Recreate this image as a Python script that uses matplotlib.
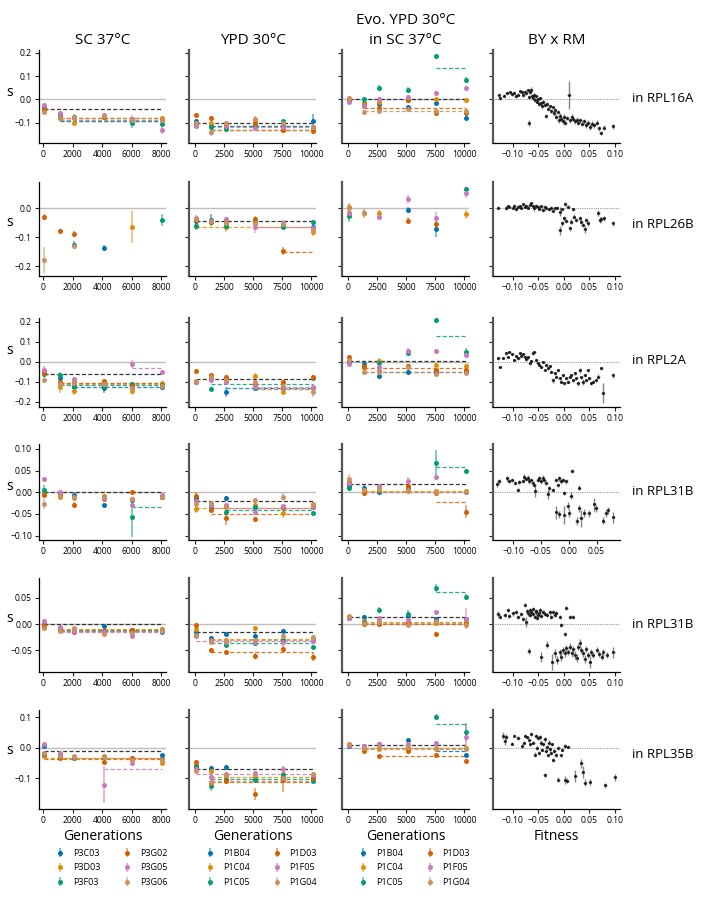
import numpy as np
import matplotlib
matplotlib.use('Agg')
import matplotlib.pyplot as plt
from matplotlib.colors import to_rgba

plt.rcParams['font.family'] = ['Open Sans', 'DejaVu Sans']
plt.rcParams['axes.unicode_minus'] = True

N = np.nan

# ---------------- labels / categories ----------------
conditions = ['SC 37°C', 'YPD 30°C', 'Evo. YPD 30°C\nin SC 37°C', 'BY x RM']
genes = ['in RPL16A', 'in RPL26B', 'in RPL2A', 'in RPL31B', 'in RPL31B', 'in RPL35B']
pops_sc = ['P3C03', 'P3D03', 'P3F03', 'P3G02', 'P3G05', 'P3G06']
pops_ypd = ['P1B04', 'P1C04', 'P1C05', 'P1D03', 'P1F05', 'P1G04']
palette = ['#0173b2', '#de8f05', '#029e73', '#d55e00', '#cc78bc', '#ca9161']
gens_sc = [50, 1100, 2100, 4100, 6050, 8100]
gens_ypd = [50, 1400, 2650, 5150, 7550, 10150]
xticks_sc = [0, 2000, 4000, 6000, 8000]
xticks_ypd = [0, 2500, 5000, 7500, 10000]
xticks_fit = [-0.10, -0.05, 0.00, 0.05, 0.10]
row_yticks = [[-0.1, 0.0, 0.1, 0.2], [-0.2, -0.1, 0.0], [-0.2, -0.1, 0.0, 0.1, 0.2],
              [-0.10, -0.05, 0.00, 0.05, 0.10], [-0.05, 0.00, 0.05], [-0.1, 0.0, 0.1]]
row_ylim = [(-0.188, 0.212), (-0.233, 0.091), (-0.2265, 0.2185),
            (-0.110, 0.1113), (-0.0913, 0.0875), (-0.200, 0.1235)]
row_fit_xlim = [(-0.139, 0.110), (-0.139, 0.110), (-0.139, 0.110),
                (-0.136, 0.092), (-0.139, 0.110), (-0.139, 0.110)]
byrm_xerr = 0.003

# ---------------- RPL16A ----------------
rpl16a_sc_s = [[-0.034, -0.062, -0.078, -0.072, -0.085, -0.090],
               [-0.050, -0.080, -0.103, -0.075, -0.085, -0.080],
               [-0.045, -0.078, -0.075, -0.075, -0.100, -0.105],
               [-0.043, -0.080, -0.080, -0.075, -0.085, -0.090],
               [-0.025, -0.060, -0.080, -0.068, -0.083, -0.130],
               [-0.056, -0.082, -0.077, -0.072, -0.090, -0.090]]
rpl16a_sc_err = [[.006, .006, .006, .006, .007, .008],
                 [.008, .010, .012, .008, .008, .008],
                 [.006, .008, .010, .008, .022, .010],
                 [.006, .006, .008, .006, .008, .006],
                 [.008, .008, .008, .008, .015, .020],
                 [.008, .010, .008, .006, .008, .010]]
rpl16a_sc_anc = -0.043
rpl16a_sc_fit = [(1100, -0.092), (1100, -0.080), (1100, -0.093), (1100, -0.080), (1100, -0.088), (1100, -0.082)]

rpl16a_ypd_s = [[-0.092, -0.115, -0.115, -0.120, -0.115, -0.093],
                [-0.100, -0.100, -0.110, -0.090, -0.130, -0.130],
                [-0.110, -0.120, -0.128, -0.115, -0.095, -0.120],
                [-0.067, -0.079, -0.105, -0.100, -0.130, -0.135],
                [-0.117, -0.139, -0.115, -0.122, -0.120, -0.120],
                [-0.100, -0.140, -0.100, -0.085, -0.100, -0.120]]
rpl16a_ypd_err = [[.008, .008, .008, .008, .008, .030],
                  [.008, .008, .008, .008, .008, .008],
                  [.008, .010, .008, .008, .008, .008],
                  [.008, .008, .008, .008, .008, .015],
                  [.008, .020, .008, .012, .008, .008],
                  [.008, .008, .008, .012, .008, .008]]
rpl16a_ypd_anc = -0.100
rpl16a_ypd_fit = [(1400, -0.117), (1400, -0.130), (1400, -0.117), (1400, -0.132), (1400, -0.119), (1400, -0.133)]

rpl16a_evo_s = [[0.000, -0.015, -0.020, -0.034, -0.017, -0.079],
                [0.003, -0.020, -0.010, -0.002, 0.000, -0.003],
                [-0.002, 0.000, 0.050, 0.040, 0.186, 0.083],
                [-0.005, -0.030, -0.039, -0.005, -0.060, -0.057],
                [-0.010, -0.029, 0.000, 0.011, 0.026, 0.047],
                [0.005, -0.056, -0.049, -0.040, -0.050, -0.049]]
rpl16a_evo_err = [[.007, .007, .007, .007, .007, .012],
                  [.007, .007, .007, .007, .007, .007],
                  [.007, .007, .012, .012, .007, .015],
                  [.007, .007, .007, .007, .007, .007],
                  [.007, .007, .007, .007, .007, .010],
                  [.007, .007, .007, .007, .007, .007]]
rpl16a_evo_anc = 0.0
rpl16a_evo_fit = [None, None, (7550, 0.135), (1400, -0.039), None, (1400, -0.049)]

rpl16a_byrm = [(-0.128, 0.020, .008), (-0.126, 0.005, .006), (-0.118, 0.015, .006), (-0.112, 0.025, .006),
               (-0.106, 0.030, .006), (-0.102, 0.022, .006), (-0.098, 0.028, .006), (-0.094, 0.012, .008),
               (-0.090, 0.020, .006), (-0.086, 0.035, .006), (-0.083, 0.030, .006), (-0.080, 0.018, .008),
               (-0.077, 0.032, .006), (-0.074, 0.025, .006), (-0.071, 0.038, .006), (-0.068, 0.010, .008),
               (-0.066, 0.030, .008), (-0.064, 0.042, .010), (-0.062, 0.015, .008), (-0.060, 0.005, .008),
               (-0.058, 0.020, .006), (-0.056, -0.005, .008), (-0.054, 0.012, .006), (-0.052, -0.010, .008),
               (-0.050, 0.000, .006), (-0.048, -0.020, .008), (-0.046, 0.005, .006), (-0.044, -0.015, .008),
               (-0.042, -0.030, .008), (-0.040, -0.010, .006), (-0.038, -0.025, .008), (-0.036, -0.072, .008),
               (-0.034, -0.020, .008), (-0.031, -0.040, .008), (-0.028, -0.030, .006), (-0.025, -0.050, .008),
               (-0.022, -0.035, .008), (-0.020, -0.060, .010), (-0.018, -0.045, .008), (-0.015, -0.075, .010),
               (-0.012, -0.055, .008), (-0.010, -0.090, .012), (-0.008, -0.070, .010), (-0.005, -0.085, .010),
               (-0.002, -0.095, .010), (0.000, -0.075, .010), (0.003, -0.100, .012), (0.006, -0.080, .010),
               (0.010, 0.020, .060), (0.012, -0.090, .010), (0.015, -0.075, .010), (0.018, -0.085, .010),
               (0.021, -0.095, .012), (0.025, -0.088, .010), (0.028, -0.100, .010), (0.032, -0.090, .010),
               (0.036, -0.105, .010), (0.040, -0.095, .010), (0.044, -0.110, .012), (0.048, -0.100, .010),
               (0.052, -0.118, .012), (0.056, -0.105, .010), (0.060, -0.112, .010), (0.064, -0.100, .012),
               (0.068, -0.125, .010), (0.072, -0.145, .010), (0.078, -0.122, .010), (0.096, -0.117, .012),
               (-0.069, -0.103, .012)]

# ---------------- RPL26B ----------------
rpl26b_sc_s = [[N, N, -0.126, -0.136, N, N],
               [N, N, N, N, -0.063, N],
               [N, N, N, N, N, -0.040],
               [-0.031, -0.078, -0.089, N, N, N],
               [N, N, N, N, N, N],
               [-0.178, N, -0.130, N, N, N]]
rpl26b_sc_err = [[N, N, .015, .010, N, N],
                 [N, N, N, N, .055, N],
                 [N, N, N, N, N, .020],
                 [.010, .008, .010, N, N, N],
                 [N, N, N, N, N, N],
                 [.045, N, .010, N, N, N]]
rpl26b_sc_anc = None
rpl26b_sc_fit = [None] * 6

rpl26b_ypd_s = [[-0.045, -0.040, -0.060, -0.050, -0.060, -0.065],
                [-0.060, -0.045, -0.065, -0.045, -0.060, -0.080],
                [-0.061, -0.048, -0.062, -0.048, -0.063, -0.048],
                [-0.040, -0.046, -0.045, -0.035, -0.147, N],
                [-0.032, -0.045, -0.038, -0.065, -0.049, -0.069],
                [-0.038, -0.045, -0.050, -0.050, -0.055, -0.075]]
rpl26b_ypd_err = [[.008, .020, .008, .008, .008, .008],
                  [.008, .008, .015, .008, .008, .015],
                  [.015, .008, .008, .008, .008, .008],
                  [.008, .008, .008, .010, .015, N],
                  [.008, .008, .008, .020, .008, .008],
                  [.008, .008, .008, .008, .008, .008]]
rpl26b_ypd_anc = -0.043
rpl26b_ypd_fit = [None, (50, -0.064), None, (7550, -0.149), (5150, -0.063), None]

rpl26b_evo_s = [[N, N, N, -0.006, -0.072, N],
                [0.005, N, -0.015, N, N, -0.021],
                [-0.026, N, N, N, N, 0.067],
                [-0.015, -0.017, N, -0.043, -0.055, N],
                [-0.015, N, -0.029, 0.032, -0.032, 0.052],
                [0.000, -0.017, N, N, N, N]]
rpl26b_evo_err = [[N, N, N, .010, .025, N],
                  [.015, N, .008, N, N, .015],
                  [.020, N, N, N, N, .008],
                  [.010, .015, N, .012, .012, N],
                  [.008, N, .008, .015, .020, .015],
                  [.015, .010, N, N, N, N]]
rpl26b_evo_anc = None
rpl26b_evo_fit = [None] * 6

rpl26b_byrm = [(-0.129, 0.003, .006), (-0.113, 0.000, .005), (-0.110, 0.008, .005), (-0.107, 0.006, .005),
               (-0.100, 0.003, .005), (-0.097, 0.010, .005), (-0.093, -0.003, .005), (-0.090, 0.006, .005),
               (-0.087, 0.008, .005), (-0.084, 0.002, .005), (-0.080, 0.015, .005), (-0.077, 0.006, .005),
               (-0.074, 0.010, .005), (-0.071, 0.003, .005), (-0.067, 0.013, .005), (-0.064, 0.017, .005),
               (-0.061, 0.008, .005), (-0.058, 0.000, .008), (-0.054, 0.010, .005), (-0.051, 0.006, .005),
               (-0.048, -0.001, .005), (-0.044, 0.008, .005), (-0.041, -0.006, .005), (-0.038, 0.006, .005),
               (-0.035, 0.001, .005), (-0.029, -0.003, .005), (-0.025, 0.003, .005), (-0.022, -0.008, .006),
               (-0.018, 0.000, .006), (-0.014, 0.003, .006), (-0.008, -0.011, .015), (-0.003, -0.003, .006),
               (0.003, 0.015, .006), (0.008, 0.006, .006), (0.018, -0.003, .005),
               (-0.008, -0.075, .015), (-0.003, -0.052, .010), (0.001, -0.034, .008), (0.005, -0.043, .008),
               (0.011, -0.069, .010), (0.014, -0.046, .008), (0.019, -0.029, .008), (0.024, -0.040, .008),
               (0.031, -0.034, .008), (0.034, -0.046, .008), (0.037, -0.057, .008), (0.041, -0.072, .012),
               (0.044, -0.040, .008), (0.047, -0.052, .008), (0.067, -0.017, .010), (0.070, -0.040, .010),
               (0.073, -0.038, .008), (0.078, -0.034, .008), (0.096, -0.052, .008)]

# ---------------- RPL2A ----------------
rpl2a_sc_s = [[-0.045, -0.080, -0.125, -0.133, -0.130, -0.128],
              [-0.050, -0.125, -0.145, -0.100, -0.145, -0.108],
              [-0.060, -0.065, -0.120, -0.120, -0.112, -0.115],
              [-0.058, -0.100, -0.100, -0.097, -0.120, -0.120],
              [-0.042, -0.110, -0.088, -0.110, -0.013, -0.053],
              [-0.092, -0.110, -0.108, -0.110, -0.130, -0.120]]
rpl2a_sc_err = [[.010, .010, .010, .025, .010, .010],
                [.030, .030, .020, .010, .020, .010],
                [.010, .015, .010, .010, .010, .010],
                [.010, .010, .010, .010, .010, .010],
                [.010, .010, .010, .010, .020, .010],
                [.010, .010, .010, .010, .010, .010]]
rpl2a_sc_anc = -0.062
rpl2a_sc_fit = [(2100, -0.128), (1100, -0.105), (1100, -0.115), (1100, -0.108), (6050, -0.033), (1100, -0.110)]

rpl2a_ypd_s = [[-0.100, -0.083, -0.150, -0.130, -0.130, -0.130],
               [-0.095, -0.070, -0.085, -0.072, -0.150, -0.130],
               [-0.100, -0.137, -0.090, -0.130, -0.130, -0.083],
               [-0.047, -0.067, -0.078, -0.110, -0.100, -0.078],
               [-0.100, -0.090, -0.103, -0.128, -0.130, -0.125],
               [-0.095, -0.075, -0.090, -0.100, -0.120, -0.150]]
rpl2a_ypd_err = [[.010, .010, .025, .010, .010, .010],
                 [.010, .010, .010, .015, .010, .010],
                 [.015, .010, .010, .010, .010, .010],
                 [.008, .010, .010, .010, .010, .012],
                 [.010, .010, .010, .010, .010, .010],
                 [.010, .010, .010, .010, .010, .025]]
rpl2a_ypd_anc = -0.088
rpl2a_ypd_fit = [(2650, -0.133), (5150, -0.137), (1400, -0.113), None, (5150, -0.128), (5150, -0.137)]

rpl2a_evo_s = [[0.000, -0.013, -0.072, -0.050, -0.050, -0.050],
               [0.005, -0.030, 0.005, -0.020, -0.017, -0.020],
               [0.000, N, -0.008, 0.042, 0.208, 0.050],
               [0.022, -0.022, -0.045, -0.020, -0.042, -0.042],
               [-0.010, N, -0.025, 0.055, 0.055, 0.033],
               [0.010, -0.053, -0.050, -0.025, -0.063, -0.055]]
rpl2a_evo_err = [[.008, .008, .015, .008, .008, .008],
                 [.008, .008, .012, .008, .008, .008],
                 [.008, N, .008, .015, .008, .020],
                 [.008, .008, .008, .008, .008, .008],
                 [.008, N, .008, .012, .008, .012],
                 [.008, .008, .008, .008, .008, .008]]
rpl2a_evo_anc = 0.005
rpl2a_evo_fit = [(1400, -0.050), None, (7550, 0.130), (1400, -0.033), None, (1400, -0.052)]

rpl2a_byrm = [(-0.129, 0.017, .006), (-0.126, -0.025, .006), (-0.120, 0.020, .006), (-0.113, 0.042, .006),
              (-0.110, 0.025, .006), (-0.107, 0.050, .006), (-0.101, 0.038, .006), (-0.097, 0.008, .006),
              (-0.093, 0.028, .006), (-0.090, 0.017, .006), (-0.087, 0.045, .006), (-0.084, 0.028, .006),
              (-0.080, 0.038, .006), (-0.077, 0.025, .006), (-0.074, 0.012, .006), (-0.071, 0.022, .006),
              (-0.067, -0.008, .006), (-0.064, 0.005, .006), (-0.061, 0.042, .006), (-0.058, 0.050, .006),
              (-0.054, 0.008, .006), (-0.051, -0.005, .006), (-0.048, -0.017, .006), (-0.044, -0.025, .006),
              (-0.041, 0.000, .006), (-0.038, -0.042, .006), (-0.035, -0.017, .006), (-0.031, -0.033, .006),
              (-0.028, -0.022, .006), (-0.025, -0.050, .008), (-0.022, -0.092, .012), (-0.018, -0.058, .008),
              (-0.015, -0.075, .008), (-0.012, -0.042, .008), (-0.008, -0.083, .008), (-0.005, -0.100, .008),
              (-0.002, -0.067, .008), (0.001, -0.108, .008), (0.005, -0.083, .008), (0.008, -0.100, .008),
              (0.011, -0.075, .008), (0.014, -0.067, .008), (0.018, -0.092, .008), (0.021, -0.058, .008),
              (0.024, -0.083, .008), (0.027, -0.108, .012), (0.031, -0.042, .012), (0.034, -0.078, .008),
              (0.037, -0.100, .015), (0.041, -0.067, .008), (0.044, -0.092, .008), (0.047, -0.042, .008),
              (0.050, -0.083, .008), (0.054, -0.108, .008), (0.057, -0.100, .008), (0.062, -0.092, .008),
              (0.067, -0.075, .012), (0.073, -0.033, .008), (0.076, -0.158, .050), (0.096, -0.067, .012)]

# ---------------- RPL31B (first) ----------------
rpl31b_sc_s = [[-0.003, -0.003, -0.006, -0.029, -0.018, -0.010],
               [-0.005, -0.012, -0.010, -0.008, -0.015, -0.010],
               [0.005, -0.005, -0.010, -0.012, -0.057, -0.012],
               [-0.006, -0.005, -0.029, -0.015, 0.000, -0.010],
               [0.031, 0.000, -0.010, -0.014, -0.029, -0.006],
               [-0.027, -0.008, -0.014, -0.010, -0.015, -0.010]]
rpl31b_sc_err = [[.004, .004, .004, .004, .004, .004],
                 [.004, .004, .004, .004, .004, .004],
                 [.012, .004, .004, .004, .045, .004],
                 [.006, .004, .006, .004, .004, .004],
                 [.004, .004, .004, .004, .004, .004],
                 [.012, .004, .004, .004, .004, .004]]
rpl31b_sc_anc = 0.0
rpl31b_sc_fit = [None, None, (6050, -0.034), None, None, None]

rpl31b_ypd_s = [[-0.014, -0.030, -0.014, -0.035, -0.035, -0.035],
                [-0.038, -0.035, -0.035, -0.030, -0.048, -0.028],
                [-0.018, -0.035, -0.046, -0.035, -0.035, -0.048],
                [-0.008, -0.040, -0.060, -0.062, -0.035, -0.035],
                [-0.020, -0.030, -0.029, -0.045, -0.031, -0.033],
                [-0.028, -0.025, -0.035, -0.018, -0.011, -0.030]]
rpl31b_ypd_err = [[.005, .005, .005, .005, .005, .005],
                  [.010, .005, .005, .005, .012, .005],
                  [.005, .005, .005, .005, .005, .005],
                  [.008, .005, .015, .006, .005, .005],
                  [.005, .005, .005, .005, .005, .005],
                  [.005, .005, .005, .005, .010, .005]]
rpl31b_ypd_anc = -0.021
rpl31b_ypd_fit = [None, (50, -0.037), (2650, -0.041), (1400, -0.050), (1400, -0.036), None]

rpl31b_evo_s = [[0.015, 0.011, 0.000, 0.010, N, 0.000],
                [0.025, 0.005, 0.005, 0.002, 0.002, 0.003],
                [0.009, N, N, N, 0.067, 0.049],
                [0.021, -0.002, N, 0.015, -0.002, -0.045],
                [0.022, N, 0.015, 0.027, 0.035, N],
                [0.031, 0.005, 0.009, 0.005, 0.000, 0.000]]
rpl31b_evo_err = [[.005, .005, .005, .005, N, .005],
                  [.008, .005, .005, .005, .005, .005],
                  [.006, N, N, N, .030, .005],
                  [.005, .005, N, .005, .005, .015],
                  [.005, N, .005, .008, .005, N],
                  [.012, .005, .005, .005, .005, .005]]
rpl31b_evo_anc = 0.020
rpl31b_evo_fit = [None, (1400, 0.003), (7550, 0.058), (7550, -0.022), None, (1400, 0.001)]

rpl31b_byrm = [(-0.128, 0.018, .006), (-0.125, 0.025, .005), (-0.110, 0.032, .005), (-0.107, 0.026, .005),
               (-0.101, 0.028, .005), (-0.096, 0.021, .005), (-0.092, 0.005, .005), (-0.089, 0.023, .005),
               (-0.083, 0.026, .005), (-0.080, 0.036, .005), (-0.077, 0.031, .005), (-0.074, 0.034, .005),
               (-0.071, 0.025, .005), (-0.068, 0.028, .005), (-0.065, 0.021, .005), (-0.062, 0.017, .005),
               (-0.060, 0.002, .012), (-0.056, 0.028, .005), (-0.053, 0.032, .005), (-0.050, 0.025, .005),
               (-0.047, 0.034, .005), (-0.044, 0.028, .005), (-0.041, 0.021, .005), (-0.038, -0.005, .010),
               (-0.035, 0.009, .005), (-0.029, 0.005, .005), (-0.023, 0.028, .005), (-0.020, 0.017, .005),
               (-0.017, 0.032, .005), (-0.014, 0.025, .005), (-0.011, 0.028, .005), (-0.008, -0.002, .005),
               (-0.005, 0.025, .005), (0.004, -0.008, .008), (0.006, 0.049, .005), (0.019, 0.011, .005),
               (-0.022, -0.046, .015), (-0.017, -0.051, .008), (-0.008, -0.052, .020), (-0.002, -0.031, .008),
               (0.001, -0.048, .010), (0.014, -0.066, .010), (0.019, -0.037, .008), (0.022, -0.060, .020),
               (0.028, -0.048, .010), (0.036, -0.048, .008), (0.046, -0.028, .015), (0.049, -0.037, .008),
               (0.062, -0.066, .008), (0.067, -0.048, .008), (0.070, -0.041, .008), (0.080, -0.058, .012)]

# ---------------- RPL31B (second) ----------------
rpl31b2_sc_s = [[0.000, -0.008, -0.012, -0.004, -0.012, -0.012],
                [-0.005, -0.010, -0.010, -0.015, -0.015, -0.010],
                [-0.005, -0.010, -0.014, -0.013, -0.015, -0.016],
                [-0.002, -0.010, -0.016, -0.013, -0.011, -0.012],
                [0.006, -0.006, -0.013, -0.015, -0.023, -0.013],
                [-0.008, -0.013, -0.008, -0.019, -0.017, -0.012]]
rpl31b2_sc_err = [[.003, .003, .003, .003, .003, .003],
                  [.004, .003, .003, .003, .003, .004],
                  [.003, .003, .003, .003, .003, .004],
                  [.004, .003, .003, .003, .003, .003],
                  [.004, .003, .003, .003, .004, .003],
                  [.004, .003, .003, .003, .003, .003]]
rpl31b2_sc_anc = 0.0
rpl31b2_sc_fit = [(1100, -0.012), (1100, -0.010), (1100, -0.014), (1100, -0.013), (1100, -0.015), (1100, -0.013)]

rpl31b2_ypd_s = [[-0.015, -0.027, -0.019, -0.022, -0.013, -0.030],
                 [-0.010, -0.030, -0.030, -0.008, -0.030, -0.028],
                 [-0.020, -0.033, -0.039, -0.037, -0.030, -0.043],
                 [-0.002, -0.049, -0.054, -0.061, -0.048, -0.062],
                 [-0.022, -0.032, -0.034, -0.035, -0.035, -0.032],
                 [-0.021, -0.034, -0.032, -0.030, -0.023, -0.025]]
rpl31b2_ypd_err = [[.004, .004, .004, .004, .004, .004],
                   [.004, .004, .004, .004, .004, .004],
                   [.004, .004, .004, .004, .004, .004],
                   [.004, .004, .004, .005, .008, .008],
                   [.004, .004, .004, .004, .004, .004],
                   [.004, .004, .004, .004, .004, .004]]
rpl31b2_ypd_anc = -0.016
rpl31b2_ypd_fit = [None, (1400, -0.028), (1400, -0.037), (1400, -0.054), (50, -0.032), (1400, -0.030)]

rpl31b2_evo_s = [[0.012, 0.014, N, 0.015, 0.010, 0.009],
                 [0.012, 0.005, 0.005, 0.002, 0.002, 0.003],
                 [0.013, 0.004, 0.027, 0.019, 0.068, 0.051],
                 [0.012, 0.000, 0.000, 0.003, -0.019, 0.000],
                 [0.012, N, 0.011, 0.008, 0.022, 0.010],
                 [0.015, 0.002, 0.003, -0.002, 0.005, -0.002]]
rpl31b2_evo_err = [[.003, .003, N, .003, .003, .003],
                   [.003, .003, .003, .003, .003, .003],
                   [.003, .003, .006, .008, .008, .006],
                   [.003, .003, .003, .003, .003, .003],
                   [.003, N, .003, .003, .003, .020],
                   [.003, .003, .003, .003, .003, .003]]
rpl31b2_evo_anc = 0.014
rpl31b2_evo_fit = [None, (1400, 0.004), (7550, 0.061), (1400, 0.000), None, (1400, 0.002)]

rpl31b2_byrm = [(-0.130, 0.019, .005), (-0.126, 0.014, .005), (-0.116, 0.017, .004), (-0.110, 0.027, .004),
                (-0.107, 0.015, .004), (-0.100, 0.020, .004), (-0.093, 0.023, .004), (-0.090, 0.014, .004),
                (-0.084, 0.019, .004), (-0.080, 0.009, .004), (-0.077, 0.036, .004), (-0.074, 0.004, .010),
                (-0.072, 0.024, .004), (-0.070, 0.020, .004), (-0.067, 0.017, .004), (-0.066, 0.026, .004),
                (-0.064, 0.023, .004), (-0.061, 0.019, .004), (-0.060, 0.028, .004), (-0.057, 0.014, .004),
                (-0.055, 0.025, .004), (-0.054, 0.022, .004), (-0.052, 0.012, .004), (-0.051, 0.017, .004),
                (-0.048, 0.020, .004), (-0.047, 0.027, .004), (-0.044, 0.015, .004), (-0.041, 0.023, .004),
                (-0.038, 0.019, .004), (-0.034, 0.017, .004), (-0.028, 0.022, .004), (-0.025, 0.014, .004),
                (-0.021, 0.023, .004), (-0.018, 0.017, .004), (-0.015, 0.020, .004), (-0.008, 0.013, .004),
                (-0.005, -0.002, .004), (0.002, -0.019, .004), (0.005, 0.030, .004), (0.011, 0.014, .004),
                (0.017, 0.013, .004),
                (-0.069, -0.051, .006), (-0.044, -0.063, .010), (-0.034, -0.039, .006), (-0.023, -0.072, .015),
                (-0.018, -0.056, .008), (-0.013, -0.068, .008), (-0.008, -0.054, .006), (-0.005, -0.062, .008),
                (-0.002, -0.049, .006), (0.002, -0.056, .006), (0.005, -0.046, .006), (0.008, -0.053, .006),
                (0.011, -0.043, .006), (0.015, -0.056, .006), (0.018, -0.048, .006), (0.021, -0.059, .008),
                (0.025, -0.065, .008), (0.028, -0.044, .006), (0.031, -0.037, .008), (0.034, -0.049, .006),
                (0.038, -0.056, .006), (0.041, -0.067, .008), (0.044, -0.048, .006), (0.048, -0.059, .006),
                (0.051, -0.072, .012), (0.054, -0.053, .006), (0.057, -0.059, .006), (0.064, -0.049, .006),
                (0.069, -0.057, .006), (0.074, -0.062, .006), (0.077, -0.054, .006), (0.084, -0.059, .006),
                (0.097, -0.054, .010)]

# ---------------- RPL35B ----------------
rpl35b_sc_s = [[0.006, -0.025, -0.030, -0.030, -0.035, -0.025],
               [-0.028, -0.030, -0.030, -0.028, -0.035, -0.051],
               [-0.020, -0.030, -0.033, -0.030, -0.035, -0.035],
               [-0.020, -0.034, -0.030, -0.048, -0.034, -0.035],
               [0.011, -0.017, -0.030, -0.120, -0.051, -0.040],
               [-0.017, -0.028, -0.028, -0.030, -0.040, -0.040]]
rpl35b_sc_err = [[.006, .006, .006, .006, .006, .006],
                 [.010, .006, .006, .006, .006, .006],
                 [.006, .006, .006, .006, .006, .006],
                 [.006, .010, .006, .006, .006, .006],
                 [.006, .006, .006, .060, .010, .006],
                 [.006, .006, .006, .006, .006, .006]]
rpl35b_sc_anc = -0.009
rpl35b_sc_fit = [None, (50, -0.034), None, (50, -0.035), (4100, -0.069), (1100, -0.033)]

rpl35b_ypd_s = [[-0.065, -0.065, -0.063, -0.100, -0.100, -0.100],
                [-0.057, -0.077, -0.100, -0.095, -0.085, -0.095],
                [-0.060, -0.125, -0.105, -0.105, -0.090, -0.108],
                [-0.048, -0.116, -0.110, -0.150, -0.105, -0.100],
                [-0.070, -0.097, -0.085, -0.083, -0.068, -0.090],
                [-0.076, -0.111, -0.090, -0.090, -0.100, -0.085]]
rpl35b_ypd_err = [[.007, .007, .007, .007, .007, .007],
                  [.007, .007, .007, .007, .007, .007],
                  [.007, .015, .007, .007, .007, .007],
                  [.007, .007, .007, .020, .040, .007],
                  [.007, .007, .007, .007, .010, .007],
                  [.007, .007, .007, .007, .007, .007]]
rpl35b_ypd_anc = -0.068
rpl35b_ypd_fit = [None, (1400, -0.095), (1400, -0.103), (1400, -0.113), (50, -0.085), (1400, -0.108)]

rpl35b_evo_s = [[0.006, 0.005, 0.012, 0.025, N, -0.023],
                [0.014, -0.005, -0.005, -0.002, -0.005, 0.000],
                [0.008, N, N, N, 0.102, 0.051],
                [0.008, -0.009, -0.028, -0.011, -0.025, -0.042],
                [0.010, 0.005, 0.014, 0.014, 0.017, 0.034],
                [0.014, 0.000, 0.002, 0.002, 0.000, -0.005]]
rpl35b_evo_err = [[.006, .006, .006, .008, N, .006],
                  [.006, .006, .006, .006, .006, .006],
                  [.006, N, N, N, .008, .030],
                  [.006, .006, .006, .006, .006, .006],
                  [.006, .006, .006, .006, .006, .045],
                  [.006, .006, .006, .006, .006, .006]]
rpl35b_evo_anc = 0.009
rpl35b_evo_fit = [(7550, -0.011), (1400, 0.000), (7550, 0.077), (2650, -0.026), None, (1400, -0.005)]

rpl35b_byrm = [(-0.119, 0.040, .010), (-0.116, 0.023, .015), (-0.113, 0.036, .008), (-0.102, 0.014, .006),
               (-0.097, 0.040, .006), (-0.090, 0.032, .006), (-0.082, 0.006, .008), (-0.079, 0.017, .006),
               (-0.076, 0.040, .006), (-0.072, 0.034, .006), (-0.068, 0.025, .006), (-0.066, 0.011, .006),
               (-0.064, 0.045, .008), (-0.060, 0.017, .006), (-0.057, -0.023, .008), (-0.055, 0.040, .006),
               (-0.053, 0.000, .006), (-0.051, 0.032, .006), (-0.049, -0.017, .006), (-0.047, 0.036, .006),
               (-0.045, 0.017, .008), (-0.043, -0.006, .006), (-0.041, 0.011, .006), (-0.038, 0.028, .008),
               (-0.036, -0.011, .006), (-0.034, 0.002, .006), (-0.032, -0.025, .006), (-0.030, 0.017, .008),
               (-0.028, -0.005, .006), (-0.026, -0.017, .006), (-0.024, 0.011, .006), (-0.021, -0.040, .006),
               (-0.019, -0.011, .006), (-0.016, -0.023, .006), (-0.011, 0.000, .006), (-0.006, -0.025, .006),
               (-0.003, -0.006, .006), (0.002, 0.006, .006), (0.008, 0.004, .006),
               (-0.038, -0.089, .006), (-0.011, -0.105, .008), (0.003, -0.105, .012), (0.007, -0.107, .008),
               (0.022, -0.093, .020), (0.034, -0.051, .015), (0.037, -0.080, .020), (0.041, -0.114, .012),
               (0.051, -0.111, .010), (0.081, -0.123, .008), (0.100, -0.097, .012)]

# ---------------- table of panels (built from the arrays above) ----------------
rows = [
    [(rpl16a_sc_s, rpl16a_sc_err, rpl16a_sc_anc, rpl16a_sc_fit),
     (rpl16a_ypd_s, rpl16a_ypd_err, rpl16a_ypd_anc, rpl16a_ypd_fit),
     (rpl16a_evo_s, rpl16a_evo_err, rpl16a_evo_anc, rpl16a_evo_fit), rpl16a_byrm],
    [(rpl26b_sc_s, rpl26b_sc_err, rpl26b_sc_anc, rpl26b_sc_fit),
     (rpl26b_ypd_s, rpl26b_ypd_err, rpl26b_ypd_anc, rpl26b_ypd_fit),
     (rpl26b_evo_s, rpl26b_evo_err, rpl26b_evo_anc, rpl26b_evo_fit), rpl26b_byrm],
    [(rpl2a_sc_s, rpl2a_sc_err, rpl2a_sc_anc, rpl2a_sc_fit),
     (rpl2a_ypd_s, rpl2a_ypd_err, rpl2a_ypd_anc, rpl2a_ypd_fit),
     (rpl2a_evo_s, rpl2a_evo_err, rpl2a_evo_anc, rpl2a_evo_fit), rpl2a_byrm],
    [(rpl31b_sc_s, rpl31b_sc_err, rpl31b_sc_anc, rpl31b_sc_fit),
     (rpl31b_ypd_s, rpl31b_ypd_err, rpl31b_ypd_anc, rpl31b_ypd_fit),
     (rpl31b_evo_s, rpl31b_evo_err, rpl31b_evo_anc, rpl31b_evo_fit), rpl31b_byrm],
    [(rpl31b2_sc_s, rpl31b2_sc_err, rpl31b2_sc_anc, rpl31b2_sc_fit),
     (rpl31b2_ypd_s, rpl31b2_ypd_err, rpl31b2_ypd_anc, rpl31b2_ypd_fit),
     (rpl31b2_evo_s, rpl31b2_evo_err, rpl31b2_evo_anc, rpl31b2_evo_fit), rpl31b2_byrm],
    [(rpl35b_sc_s, rpl35b_sc_err, rpl35b_sc_anc, rpl35b_sc_fit),
     (rpl35b_ypd_s, rpl35b_ypd_err, rpl35b_ypd_anc, rpl35b_ypd_fit),
     (rpl35b_evo_s, rpl35b_evo_err, rpl35b_evo_anc, rpl35b_evo_fit), rpl35b_byrm],
]

# ---------------- layout ----------------
W, H = 706, 900
fig = plt.figure(figsize=(W / 100, H / 100), dpi=100)
col_left = [39, 189, 342, 493]
col_w = 127
row_tb = [(50, 143), (182, 276), (318, 407), (444, 540), (578, 672), (710, 809)]
s_label_y = [92, 222, 350, 486, 618, 750]
gene_label_y = [99, 225, 361, 492, 624, 755]

dash = (0, (3.2, 1.8))
legend_axes = []

for r, row in enumerate(rows):
    top, bot = row_tb[r]
    for c in range(4):
        ax = fig.add_axes([col_left[c] / W, 1 - bot / H, col_w / W, (bot - top) / H])
        for side in ('top', 'right'):
            ax.spines[side].set_visible(False)
        ax.spines['bottom'].set_linewidth(0.9)
        if c == 0:
            ax.spines['left'].set_linewidth(0.9)
        else:
            ax.spines['left'].set_linewidth(1.6)
            ax.spines['left'].set_color('#555555')
        ax.tick_params(labelsize=6.2, length=3, width=0.8, pad=2, color='#222222')
        ax.set_ylim(*row_ylim[r])
        ax.set_yticks(row_yticks[r])
        if c > 0:
            ax.tick_params(axis='y', labelleft=False)

        if c < 3:
            s_mat, e_mat, anc, fit = row[c]
            gens = gens_sc if c == 0 else gens_ypd
            names = pops_sc if c == 0 else pops_ypd
            ax.axhline(0, color='#bdbdbd', lw=1.0, zorder=0)
            if anc is not None:
                ax.plot([gens[0], gens[-1]], [anc, anc], ls=dash, lw=0.9, color='#333333', zorder=1)
            for p in range(6):
                col = palette[p]
                if fit[p] is not None:
                    x0, lvl = fit[p]
                    ax.plot([x0, gens[-1]], [lvl, lvl], ls=dash, lw=0.9, color=col, alpha=0.85, zorder=1)
                ax.errorbar(gens, s_mat[p], yerr=e_mat[p], fmt='o', ms=3.6, color=col,
                            ecolor=to_rgba(col, 0.55), elinewidth=1.3, capsize=0,
                            markeredgewidth=0, label=names[p], zorder=3)
            if c == 0:
                ax.set_xlim(-300, 8345)
                ax.set_xticks(xticks_sc)
            else:
                ax.set_xlim(-510, 10430)
                ax.set_xticks(xticks_ypd)
            if r == 5:
                ax.set_xlabel('Generations', fontsize=10, labelpad=3)
                legend_axes.append(ax)
        else:
            pts = row[3]
            xs = [p[0] for p in pts]
            ys = [p[1] for p in pts]
            es = [p[2] for p in pts]
            ax.axhline(0, color='#9a9a9a', lw=0.8, ls=(0, (1, 1)), zorder=0)
            ax.errorbar(xs, ys, yerr=es, xerr=byrm_xerr, fmt='o', ms=2.2, color='#1f1f1f',
                        ecolor=(0.12, 0.12, 0.12, 0.55), elinewidth=1.0, capsize=0,
                        markeredgewidth=0, zorder=3)
            ax.set_xticks(xticks_fit)
            ax.set_xlim(*row_fit_xlim[r])
            if r == 5:
                ax.set_xlabel('Fitness', fontsize=10, labelpad=3)

        if r == 0:
            ax.set_title(conditions[c], fontsize=11, pad=4, linespacing=1.45)

    fig.text(10 / W, 1 - s_label_y[r] / H, 's', fontsize=10, ha='center', va='center')
    fig.text(632 / W, 1 - gene_label_y[r] / H, genes[r], fontsize=9.5, ha='left', va='center')

# legends under the three evolution columns
for i, ax in enumerate(legend_axes):
    handles, labels = ax.get_legend_handles_labels()
    cx = col_left[i] + col_w / 2 + 9
    ax.legend(handles, labels, loc='upper center', bbox_to_anchor=(cx / W, 1 - 849 / H),
              bbox_transform=fig.transFigure, ncol=2, frameon=False, fontsize=6.5,
              handlelength=1.0, handletextpad=0.9, columnspacing=2.5, labelspacing=0.6,
              borderaxespad=0, borderpad=0)

fig.savefig('out.png', dpi=100)
